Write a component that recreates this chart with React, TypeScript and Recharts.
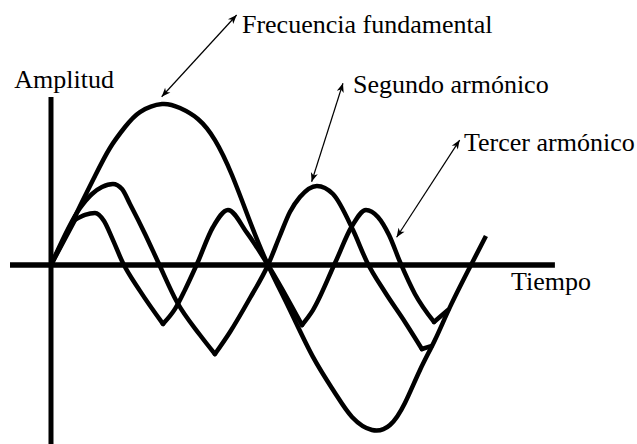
import React from "react";
import { LineChart, Line, XAxis, YAxis, ReferenceLine, ReferenceDot } from "recharts";

// t: time in degrees of the fundamental period, a: amplitude (fundamental peak = 1)
const fundamental = [
  { t: 0, a: 0 }, { t: 12.4, a: 0.186 }, { t: 24.1, a: 0.366 }, { t: 36.5, a: 0.553 },
  { t: 48.9, a: 0.727 }, { t: 61.4, a: 0.857 }, { t: 73.8, a: 0.95 }, { t: 92.1, a: 1.0 },
  { t: 107.0, a: 0.975 }, { t: 121.9, a: 0.907 }, { t: 136.0, a: 0.776 }, { t: 150.1, a: 0.559 },
  { t: 165.2, a: 0.267 }, { t: 180.0, a: 0 }, { t: 198.2, a: -0.28 }, { t: 217.3, a: -0.571 },
  { t: 235.6, a: -0.795 }, { t: 249.7, a: -0.944 }, { t: 266.3, a: -1.025 }, { t: 281.2, a: -0.994 },
  { t: 293.6, a: -0.857 }, { t: 306.1, a: -0.652 }, { t: 318.5, a: -0.466 }, { t: 331.8, a: -0.248 },
  { t: 348.4, a: 0 }, { t: 360.8, a: 0.18 },
];

// second harmonic, drawn as hand strokes joined at the pointed troughs
const secondStrokeA = [
  { t: 0, a: 0 }, { t: 24.1, a: 0.354 }, { t: 34.0, a: 0.441 }, { t: 42.3, a: 0.484 },
  { t: 51.4, a: 0.503 }, { t: 58.9, a: 0.472 }, { t: 65.5, a: 0.379 }, { t: 78.0, a: 0.193 },
  { t: 88.8, a: 0.019 }, { t: 104.5, a: -0.23 }, { t: 123.6, a: -0.435 }, { t: 136.0, a: -0.553 },
];
const secondStrokeB = [
  { t: 136.0, a: -0.553 }, { t: 148.5, a: -0.416 }, { t: 165.1, a: -0.205 }, { t: 180.0, a: 0 },
  { t: 189.8, a: 0.18 }, { t: 198.2, a: 0.329 }, { t: 206.5, a: 0.422 }, { t: 220.6, a: 0.491 },
  { t: 233.9, a: 0.441 }, { t: 250.5, a: 0.217 }, { t: 262.1, a: 0.019 }, { t: 277.0, a: -0.168 },
  { t: 293.6, a: -0.354 }, { t: 307.7, a: -0.522 },
];
const secondHook = [{ t: 307.7, a: -0.522 }, { t: 316.0, a: -0.503 }];

// third harmonic strokes
const thirdStart = [{ t: 0, a: 0 }, { t: 19.9, a: 0.28 }];
const thirdStrokeA = [
  { t: 19.9, a: 0.28 }, { t: 28.2, a: 0.311 }, { t: 36.5, a: 0.323 }, { t: 44.0, a: 0.273 },
  { t: 50.6, a: 0.168 }, { t: 59.7, a: 0.012 }, { t: 73.8, a: -0.161 }, { t: 92.9, a: -0.366 },
];
const thirdStrokeB = [
  { t: 92.9, a: -0.366 }, { t: 102.9, a: -0.273 }, { t: 111.1, a: -0.155 }, { t: 121.1, a: 0.006 },
  { t: 134.4, a: 0.236 }, { t: 146.8, a: 0.342 }, { t: 162.6, a: 0.199 }, { t: 180.0, a: 0 },
  { t: 198.2, a: -0.236 }, { t: 208.2, a: -0.373 },
];
const thirdStrokeC = [
  { t: 208.2, a: -0.373 }, { t: 217.3, a: -0.28 }, { t: 235.6, a: 0.012 }, { t: 249.7, a: 0.242 },
  { t: 261.3, a: 0.342 }, { t: 271.2, a: 0.298 }, { t: 280.4, a: 0.186 }, { t: 289.5, a: 0.019 },
  { t: 301.9, a: -0.18 }, { t: 317.7, a: -0.354 },
];
const thirdHook = [{ t: 317.7, a: -0.354 }, { t: 329.3, a: -0.28 }];

const labelTexts = ["Frecuencia fundamental", "Amplitud", "Segundo armónico", "Tercer armónico", "Tiempo"];

// layout (data coordinates)
const labelAnchors = [
  { t: 158.4, a: 1.441 },
  { t: -30.5, a: 1.099 },
  { t: 250.5, a: 1.068 },
  { t: 342.6, a: 0.708 },
  { t: 381.6, a: -0.155 },
];

const arrowSegments = [
  [{ x: 91.8, y: 1.045 }, { x: 154.0, y: 1.553 }],
  [{ x: 216.2, y: 0.517 }, { x: 242.2, y: 1.129 }],
  [{ x: 286.7, y: 0.172 }, { x: 339.0, y: 0.776 }],
];

const X_DOMAIN = [-42.3, 486.1];
const Y_DOMAIN = [-1.112, 1.646];
const FONT = '"Liberation Serif", "Times New Roman", serif';

function head(tx: number, ty: number, fx: number, fy: number) {
  const dx = tx - fx;
  const dy = ty - fy;
  const len = Math.sqrt(dx * dx + dy * dy) || 1;
  const ux = dx / len;
  const uy = dy / len;
  const nx = -uy;
  const ny = ux;
  const L = 9;
  const W = 3.6;
  const bx = tx - ux * L;
  const by = ty - uy * L;
  const mx = tx - ux * L * 0.72;
  const my = ty - uy * L * 0.72;
  return `${tx},${ty} ${bx + nx * W},${by + ny * W} ${mx},${my} ${bx - nx * W},${by - ny * W}`;
}

const ArrowShape = (props: any) => {
  const { x1, y1, x2, y2 } = props;
  if ([x1, y1, x2, y2].some((v) => typeof v !== "number" || isNaN(v))) return <g />;
  return (
    <g>
      <line x1={x1} y1={y1} x2={x2} y2={y2} stroke="#000" strokeWidth={1.2} />
      <polygon points={head(x1, y1, x2, y2)} fill="#000" />
      <polygon points={head(x2, y2, x1, y1)} fill="#000" />
    </g>
  );
};

const strokes: { data: { t: number; a: number }[]; type: "monotone" | "linear" }[] = [
  { data: secondStrokeA, type: "monotone" },
  { data: secondStrokeB, type: "monotone" },
  { data: secondHook, type: "linear" },
  { data: thirdStart, type: "linear" },
  { data: thirdStrokeA, type: "monotone" },
  { data: thirdStrokeB, type: "monotone" },
  { data: thirdStrokeC, type: "monotone" },
  { data: thirdHook, type: "linear" },
];

export default function App() {
  return (
    <div style={{ position: "absolute", left: 0, top: 0, width: 637, height: 444, background: "#fff" }}>
      <LineChart width={637} height={444} margin={{ top: 0, right: 0, bottom: 0, left: 0 }}>
        <XAxis type="number" dataKey="t" domain={X_DOMAIN} hide allowDataOverflow />
        <YAxis type="number" dataKey="a" domain={Y_DOMAIN} hide allowDataOverflow />
        <ReferenceLine
          segment={[{ x: -34.0, y: 0 }, { x: 418.0, y: 0 }]}
          stroke="#000"
          strokeWidth={5.5}
          ifOverflow="visible"
        />
        <ReferenceLine
          segment={[{ x: 0, y: 1.043 }, { x: 0, y: -1.112 }]}
          stroke="#000"
          strokeWidth={5}
          ifOverflow="visible"
        />
        <Line data={fundamental} dataKey="a" type="natural" stroke="#000" strokeWidth={4.5} dot={false} activeDot={false} isAnimationActive={false} />
        {strokes.map((s, i) => (
          <Line
            key={"s" + i}
            data={s.data}
            dataKey="a"
            type={s.type}
            stroke="#000"
            strokeWidth={4.5}
            strokeLinecap="round"
            strokeLinejoin="round"
            dot={false}
            activeDot={false}
            isAnimationActive={false}
          />
        ))}
        {arrowSegments.map((seg, i) => (
          <ReferenceLine key={"arr" + i} segment={seg} ifOverflow="visible" shape={ArrowShape} />
        ))}
        {labelTexts.map((txt, i) => (
          <ReferenceDot
            key={"lbl" + i}
            x={labelAnchors[i].t}
            y={labelAnchors[i].a}
            r={0}
            ifOverflow="visible"
            shape={(p: any) => (
              <text x={p.cx} y={p.cy} fontFamily={FONT} fontSize={26} fill="#000">
                {txt}
              </text>
            )}
          />
        ))}
      </LineChart>
    </div>
  );
}
